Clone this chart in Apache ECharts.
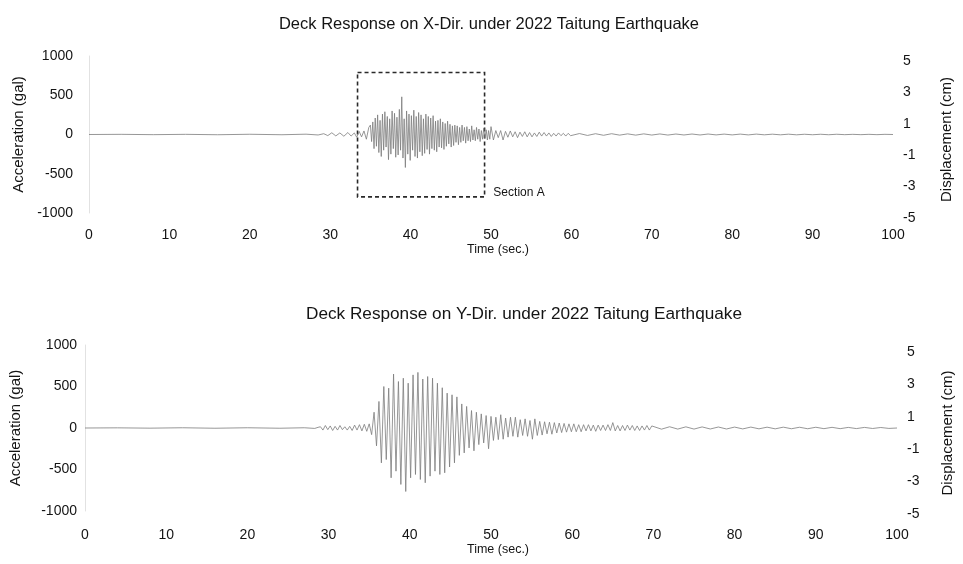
<!DOCTYPE html>
<html><head><meta charset="utf-8">
<script src="https://cdn.jsdelivr.net/npm/echarts@6/dist/echarts.min.js"></script>
<style>html,body{margin:0;padding:0;background:#fff}#c{width:963px;height:564px}</style>
</head><body><div id="c"></div>
<script>
// ---------- data ----------
const titleX = 'Deck Response on X-Dir. under 2022 Taitung Earthquake';
const titleY = 'Deck Response on Y-Dir. under 2022 Taitung Earthquake';
const timeTicksMin = 0, timeTicksMax = 100, timeTickStep = 10;
const accTicks = [-1000, -500, 0, 500, 1000];
const dispTicks = [-5, -3, -1, 1, 3, 5];

// X-direction acceleration (gal)
const quietX = [[0,0],[4,2],[8,-2],[12,2],[16,-3],[20,3],[24,-3],[27,4],[28.5,-6],[29.2,10],[29.7,-14],[30.2,22],[30.7,-18],[31.2,20],[31.7,-22],[32.2,25],[32.6,-20]];
const riseX = {start: 33.0, step: 0.3, values: [20,-35,40,-30,45,-60,90]};
const strongX = {start: 35.0, step: 0.15, values: [
  120,-90,160,-180,210,-150,250,-230,180,-280,
  260,-200,290,-160,230,-320,200,-250,300,-180,
  270,-290,220,-260,320,-200,480,-300,200,-420,
  300,-250,260,-330,240,-200,310,-280,230,-300,
  280,-220,250,-270,200,-240,260,-190,230,-250,
  210,-180,240,-200,170,-220,180,-160,200,-170,
  160,-190,140,-150,170,-120,130,-160,110,-140,
  120,-100,110,-130,90,-100,120,-80,90,-110,
  100,-80,70,-90,110,-70,60,-80,90,-60,
  70,-90,50,-60,80,-50,60,-70,50,-60]};
const decayX = {start: 50.0, step: 0.3, values: [
  100,-70,50,-40,50,-70,40,-35,45,-30,
  35,-40,30,-25,35,-30,25,-30,20,-25,
  30,-20,25,-20,20,-25,15,-20,20,-15,
  15,-20,15,-15]};
const tailX = {start: 61, step: 1, values: [12,-12,10,-10,10,-8,8,-8,8,-7,7,-7,6,-6,6,-6,6,-5,5,-5,5,-5,5,-4,4,-4,4,-4,3,-3,3,-3,3,-2,2,-2,2,-2,2,0]};

// Y-direction acceleration (gal)
const quietY = [[0,0],[4,2],[8,-2],[12,3],[16,-3],[20,3],[24,-3],[27,3],[28.3,-5],[28.7,8]];
const burstY = {start: 29.0, step: 0.3, values: [
  15,-25,30,-20,25,-30,20,-25,30,-20,
  15,-25,20,-30,35,-25,40,-35,45,-40,
  50,-80,190,-215,320,-420,500,-380,480,-600,
  650,-520,560,-680,600,-765,540,-600,640,-560,
  670,-620,590,-660,620,-580,600,-520,540,-560,
  485,-540,420,-470,400,-420,375,-330,290,-300,
  260,-240,210,-275,190,-200,170,-180,150,-250,
  140,-150,130,-140,160,-135,120,-110,130,-100,
  130,-110,100,-90,110,-100,90,-135,110,-90,
  80,-85,75,-70,70,-75,65,-60,60,-55,
  55,-50,50,-45,50,-45,40,-45,40,-35,
  40,-35,35,-40,35,-30,35,-30,40,-30,
  65,-35,30,-35,30,-30,35,-25,30,-30,
  25,-30,25,-25,30,-25,25]};
const tailY = {start: 70, step: 1, values: [16,-14,15,-13,14,-13,13,-12,12,-12,11,-11,11,-10,10,-10,10,-9,9,-9,9,-8,8,-8,7,-7,7,-6,6,-5,0]};

// Section A box (time, gal)
const sectionA = {t0: 33.4, t1: 49.2, top: 790, bottom: -795, label: 'Section A'};

// ---------- build ----------
function build(quiet, segs) {
  const out = quiet.slice();
  segs.forEach(s => s.values.forEach((v, i) => out.push([+(s.start + i * s.step).toFixed(3), v])));
  return out;
}
const dataX = build(quietX, [riseX, strongX, decayX, tailX]);
const dataY = build(quietY, [burstY, tailY]);

const FONT = 'Liberation Sans, Arial, sans-serif';
const TXT = '#141414';

function xAx(grid, margin, gap, show) {
  return {
    gridIndex: grid, type: 'value', min: timeTicksMin, max: timeTicksMax, interval: timeTickStep,
    show: show,
    axisLine: {show: false}, axisTick: {show: false}, splitLine: {show: false},
    axisLabel: {margin: margin, fontSize: 14, color: TXT, fontFamily: FONT},
    name: show ? 'Time (sec.)' : '', nameLocation: 'middle', nameGap: gap,
    nameTextStyle: {fontSize: 12.5, color: TXT, fontFamily: FONT, padding: [0, 0, 0, 14]}
  };
}
function accAx(grid, margin, gap) {
  return {
    gridIndex: grid, type: 'value', min: accTicks[0], max: accTicks[accTicks.length - 1],
    interval: accTicks[1] - accTicks[0],
    axisLine: {show: true, lineStyle: {color: '#e2e2e2', width: 1}},
    axisTick: {show: false}, splitLine: {show: false},
    axisLabel: {margin: margin, fontSize: 14, color: TXT, fontFamily: FONT, formatter: v => String(v)},
    name: 'Acceleration (gal)', nameLocation: 'middle', nameGap: gap, nameRotate: 90,
    nameTextStyle: {fontSize: 15, color: TXT, fontFamily: FONT}
  };
}
function dispAx(grid, margin, gap) {
  return {
    gridIndex: grid, type: 'value', position: 'right',
    min: dispTicks[0], max: dispTicks[dispTicks.length - 1], interval: 1,
    axisLine: {show: false}, axisTick: {show: false}, splitLine: {show: false},
    axisLabel: {margin: margin, fontSize: 14, color: TXT, fontFamily: FONT,
      formatter: v => dispTicks.indexOf(v) >= 0 ? String(v) : ''},
    name: 'Displacement (cm)', nameLocation: 'middle', nameGap: gap, nameRotate: 90,
    nameTextStyle: {fontSize: 15, color: TXT, fontFamily: FONT}
  };
}

const lineStyle = {color: '#7c7c7c', width: 0.8};

const option = {
  backgroundColor: '#ffffff',
  animation: false,
  title: [
    {text: titleX, left: 484, top: 11, textAlign: 'center',
     textStyle: {fontSize: 16.5, fontWeight: 'normal', color: TXT, fontFamily: FONT}},
    {text: titleY, left: 519, top: 301, textAlign: 'center',
     textStyle: {fontSize: 17.2, fontWeight: 'normal', color: TXT, fontFamily: FONT}}
  ],
  grid: [
    {left: 89, right: 70, top: 56, height: 157},
    {left: 89, right: 70, top: 61, height: 157},
    {left: 85, right: 66, top: 345, height: 166},
    {left: 85, right: 66, top: 352, height: 162}
  ],
  xAxis: [xAx(0, 15, 28, true), xAx(1, 15, 28, false), xAx(2, 17, 32, true), xAx(3, 17, 32, false)],
  yAxis: [accAx(0, 16, 61), dispAx(1, 10, 46), accAx(2, 8, 62), dispAx(3, 11, 44)],
  series: [
    {type: 'line', xAxisIndex: 0, yAxisIndex: 0, data: dataX, showSymbol: false, symbol: 'none',
     lineStyle: lineStyle, silent: true,
     markArea: {
       silent: true,
       itemStyle: {color: 'rgba(0,0,0,0)', borderColor: '#2a2a2a', borderWidth: 1.6, borderType: [4, 3]},
       label: {show: true, position: ['100%', '100%'], offset: [8, -5], align: 'left', verticalAlign: 'middle',
               fontSize: 12, color: TXT, fontFamily: FONT},
       data: [[{name: sectionA.label, xAxis: sectionA.t0, yAxis: sectionA.top},
               {xAxis: sectionA.t1, yAxis: sectionA.bottom}]]
     }},
    {type: 'line', xAxisIndex: 2, yAxisIndex: 2, data: dataY, showSymbol: false, symbol: 'none',
     lineStyle: lineStyle, silent: true}
  ]
};
const chart = echarts.init(document.getElementById('c'), null, {renderer: 'canvas'});
chart.setOption(option);
</script></body></html>
